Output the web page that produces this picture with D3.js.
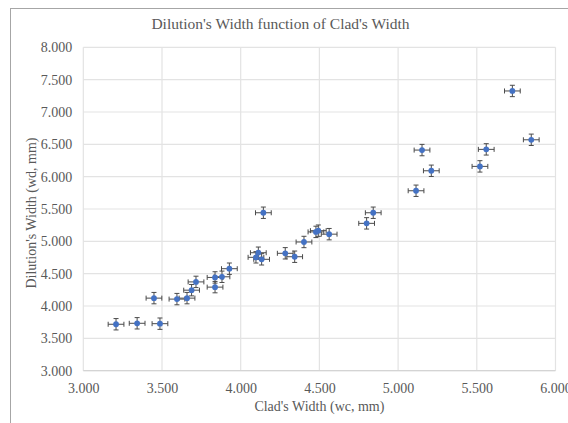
<!DOCTYPE html>
<html><head><meta charset="utf-8">
<script src="https://cdn.jsdelivr.net/npm/d3@7"></script>
<style>body{margin:0;background:#fff}svg{display:block}</style>
</head><body>
<svg id="c" width="568" height="423"></svg>
<script>
const cladWidth = [3.208,3.342,3.487,3.449,3.595,3.659,3.688,3.716,3.837,3.837,3.881,3.928,
  4.144,4.112,4.097,4.133,4.283,4.343,4.402,4.478,4.493,4.562,4.800,4.842,
  5.114,5.152,5.211,5.520,5.560,5.726,5.846];
const dilutionWidth = [3.718,3.733,3.727,4.122,4.107,4.122,4.245,4.373,4.292,4.442,4.452,4.577,
  5.442,4.824,4.753,4.722,4.815,4.762,4.990,5.146,5.165,5.111,5.278,5.442,
  5.782,6.411,6.091,6.159,6.422,7.325,6.570];
const xErr = 0.05, yErr = 0.088;
const xTicks = [3,3.5,4,4.5,5,5.5,6];
const yTicks = [3,3.5,4,4.5,5,5.5,6,6.5,7,7.5,8];
const title = "Dilution's Width function of Clad's Width";
const xTitle = "Clad's Width (wc, mm)";
const yTitle = "Dilution's Width (wd, mm)";

const svg = d3.select("#c");
const font = "'Liberation Serif','Times New Roman',serif";
const txt = "#595959";
const L=83.3, R=555.5, T=47.3, B=370.7;
const x = d3.scaleLinear().domain([3,6]).range([L,R]);
const y = d3.scaleLinear().domain([3,8]).range([B,T]);

svg.append("rect").attr("x",10.5).attr("y",8.5).attr("width",700).attr("height",600)
  .attr("fill","none").attr("stroke","#a6a6a6").attr("stroke-width",1);

svg.append("text").attr("x",280.5).attr("y",29).attr("text-anchor","middle")
  .attr("font-family",font).attr("font-size",15.5).attr("fill",txt).text(title);

const g = svg.append("g");
g.selectAll(".gx").data(xTicks).enter().append("line")
  .attr("x1",d=>x(d)).attr("x2",d=>x(d)).attr("y1",T).attr("y2",B)
  .attr("stroke","#e3e3e3").attr("stroke-width",1.2);
g.selectAll(".gy").data(yTicks).enter().append("line")
  .attr("x1",L).attr("x2",R).attr("y1",d=>y(d)).attr("y2",d=>y(d))
  .attr("stroke","#e3e3e3").attr("stroke-width",1.2);
g.append("line").attr("x1",L).attr("x2",R).attr("y1",B).attr("y2",B).attr("stroke","#d0d0d0");

const xa = svg.append("g").attr("transform",`translate(0,${B})`)
  .call(d3.axisBottom(x).tickValues(xTicks).tickFormat(d3.format(".3f")).tickSize(0).tickPadding(12));
const ya = svg.append("g").attr("transform",`translate(${L},0)`)
  .call(d3.axisLeft(y).tickValues(yTicks).tickFormat(d3.format(".3f")).tickSize(0).tickPadding(11));
[xa,ya].forEach(a=>{a.select(".domain").remove();
  a.selectAll("text").attr("font-family",font).attr("font-size",14).attr("fill",txt);});

svg.append("text").attr("x",(L+R)/2).attr("y",411).attr("text-anchor","middle")
  .attr("font-family",font).attr("font-size",14).attr("fill",txt).text(xTitle);
svg.append("text").attr("transform",`translate(36,${(T+B)/2+4}) rotate(-90)`).attr("text-anchor","middle")
  .attr("font-family",font).attr("font-size",14).attr("fill",txt).text(yTitle);

const data = cladWidth.map((v,i)=>({x:v,y:dilutionWidth[i]}));
const ec = "#4a4a4a", cap=2.5;
const pts = svg.append("g");
data.forEach(d=>{
  const cx=x(d.x), cy=y(d.y);
  const e = pts.append("g").attr("stroke",ec).attr("stroke-width",1);
  e.append("line").attr("x1",x(d.x-xErr)).attr("x2",x(d.x+xErr)).attr("y1",cy).attr("y2",cy);
  e.append("line").attr("x1",x(d.x-xErr)).attr("x2",x(d.x-xErr)).attr("y1",cy-cap).attr("y2",cy+cap);
  e.append("line").attr("x1",x(d.x+xErr)).attr("x2",x(d.x+xErr)).attr("y1",cy-cap).attr("y2",cy+cap);
  e.append("line").attr("x1",cx).attr("x2",cx).attr("y1",y(d.y-yErr)).attr("y2",y(d.y+yErr));
  e.append("line").attr("x1",cx-cap).attr("x2",cx+cap).attr("y1",y(d.y-yErr)).attr("y2",y(d.y-yErr));
  e.append("line").attr("x1",cx-cap).attr("x2",cx+cap).attr("y1",y(d.y+yErr)).attr("y2",y(d.y+yErr));
});
pts.selectAll("circle").data(data).enter().append("circle")
  .attr("cx",d=>x(d.x)).attr("cy",d=>y(d.y)).attr("r",2.9).attr("fill","#4472C4");
</script>
</body></html>
